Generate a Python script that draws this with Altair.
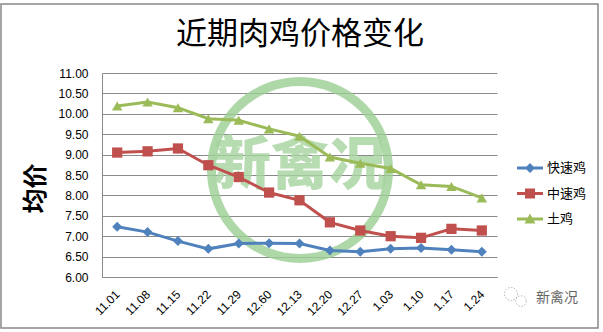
import altair as alt
import pandas as pd

# ---- data ----
dates = ["11.01", "11.08", "11.15", "11.22", "11.29", "12.60", "12.13",
         "12.20", "12.27", "1.03", "1.10", "1.17", "1.24"]
fast = [7.23, 7.10, 6.88, 6.69, 6.82, 6.83, 6.82, 6.65, 6.62, 6.69, 6.71, 6.67, 6.62]
medium = [9.05, 9.08, 9.15, 8.74, 8.45, 8.07, 7.88, 7.34, 7.14, 7.00, 6.96, 7.18, 7.14]
local = [10.19, 10.29, 10.15, 9.88, 9.84, 9.63, 9.45, 8.94, 8.79, 8.66, 8.26, 8.22, 7.94]
series_names = ["快速鸡", "中速鸡", "土鸡"]
series_colors = ["#4f81bd", "#c0504d", "#9bbb59"]
series_shapes = ["diamond", "square", "triangle-up"]
y_ticks = [6.0, 6.5, 7.0, 7.5, 8.0, 8.5, 9.0, 9.5, 10.0, 10.5, 11.0]
title_text = "近期肉鸡价格变化"
y_title = "均价"
watermark = "新禽况"

# legend symbols: line segment + marker
legend_paths = [
    "M-1.3,-0.15L1.3,-0.15L1.3,0.15L-1.3,0.15Z M0,-0.5L0.5,0L0,0.5L-0.5,0Z",
    "M-1.3,-0.15L1.3,-0.15L1.3,0.15L-1.3,0.15Z M-0.5,-0.5L0.5,-0.5L0.5,0.5L-0.5,0.5Z",
    "M-1.3,-0.15L1.3,-0.15L1.3,0.15L-1.3,0.15Z M0,-0.55L0.55,0.45L-0.55,0.45Z",
]

rows = []
for name, vals in zip(series_names, [fast, medium, local]):
    for d, v in zip(dates, vals):
        rows.append({"date": d, "price": v, "series": name})
df = pd.DataFrame(rows)

FONT_CJK = "Noto Sans CJK SC"
FONT_NUM = "Liberation Sans"
GRID = "#8a8a8a"

x_enc = alt.X(
    "date:N", sort=dates,
    scale=alt.Scale(type="point", padding=0.5),
    axis=alt.Axis(title=None, labelAngle=315, labelAlign="right", labelBaseline="middle",
                  labelPadding=15, labelFontSize=12, labelFont=FONT_NUM, labelColor="#000",
                  ticks=False, domain=True, domainColor=GRID, grid=False),
)
y_enc = alt.Y(
    "price:Q",
    scale=alt.Scale(domain=[6, 11], nice=False, zero=False),
    axis=alt.Axis(values=y_ticks, format=".2f", title=y_title, titleFont=FONT_CJK,
                  titleFontSize=25, titleFontWeight="bold", titleColor="#000",
                  titleAngle=270, titleAlign="center", titleBaseline="middle",
                  titleX=-67, titleY=115,
                  labelFontSize=12, labelFont=FONT_NUM, labelColor="#000", labelPadding=14,
                  ticks=False, domain=True, domainColor=GRID, grid=True, gridColor=GRID,
                  gridWidth=1),
)

def color_enc(legend=None):
    return alt.Color("series:N", scale=alt.Scale(domain=series_names, range=series_colors),
                     legend=legend)

base = alt.Chart(df)
one = "datum.date == '11.01' && datum.series == '土鸡'"

frame = base.mark_rect(filled=False, stroke="#888888", strokeWidth=1.5).encode(
    x=alt.value(-101), x2=alt.value(496), y=alt.value(-69), y2=alt.value(255)
).transform_filter(one)

title = base.mark_text(text=title_text, font=FONT_CJK, fontSize=31, color="#000",
                       align="center", baseline="middle").encode(
    x=alt.value(198), y=alt.value(-38)
).transform_filter(one)

ring = base.mark_point(shape="circle", size=31329, strokeWidth=9, color="#9ccf94",
                       opacity=0.8, filled=False).encode(
    x=alt.value(198), y=alt.value(97)
).transform_filter(one)

wm_text = base.mark_text(text=watermark, font=FONT_CJK, fontSize=58, fontWeight=900,
                         color="#a6d49e", opacity=0.8, align="center", baseline="middle").encode(
    x=alt.value(198), y=alt.value(94)
).transform_filter(one)

logo_text = base.mark_text(text=watermark, font=FONT_CJK, fontSize=14, color="#666666",
                           align="left", baseline="middle").encode(
    x=alt.value(434), y=alt.value(225)
).transform_filter(one)

logo_c1 = base.mark_point(shape="circle", size=170, strokeWidth=1, color="#999999",
                          strokeDash=[1.5, 1.5], filled=False).encode(
    x=alt.value(409), y=alt.value(221)
).transform_filter(one)
logo_c2 = base.mark_point(shape="circle", size=110, strokeWidth=1, color="#999999",
                          strokeDash=[1.5, 1.5], filled=False).encode(
    x=alt.value(419), y=alt.value(228)
).transform_filter(one)

lines = base.mark_line(strokeWidth=3).encode(x=x_enc, y=y_enc, color=color_enc(),
                                              detail="series:N")

pts = base.mark_point(filled=True, opacity=1, strokeWidth=0).encode(
    x=x_enc, y=y_enc, color=color_enc(),
    shape=alt.Shape("series:N", scale=alt.Scale(domain=series_names, range=series_shapes),
                    legend=None),
    size=alt.Size("series:N", scale=alt.Scale(domain=series_names, range=[100, 110, 125]),
                  legend=None),
)

leg = alt.Legend(orient="none", legendX=418, legendY=85, title=None, labelFontSize=13,
                 labelFont=FONT_CJK, labelColor="#000", symbolSize=400, labelOffset=7,
                 rowPadding=8.5, padding=0, symbolStrokeWidth=0, symbolOpacity=1)

dummy = base.mark_point(filled=True, opacity=0).encode(
    x=x_enc, y=y_enc, color=color_enc(leg),
    shape=alt.Shape("series:N", scale=alt.Scale(domain=series_names, range=legend_paths),
                    legend=leg),
)

chart = alt.layer(frame, title, ring, wm_text, lines, pts, dummy, logo_c1, logo_c2, logo_text).resolve_scale(
    color="independent", shape="independent", size="independent"
).properties(
    width=395, height=204,
    padding={"left": 102, "top": 73, "right": 106, "bottom": 55},
    autosize=alt.AutoSizeParams(type="none"),
    background="white",
).configure_view(stroke=None)

chart.save("out.html", embed_options={"renderer": "svg", "actions": False})
